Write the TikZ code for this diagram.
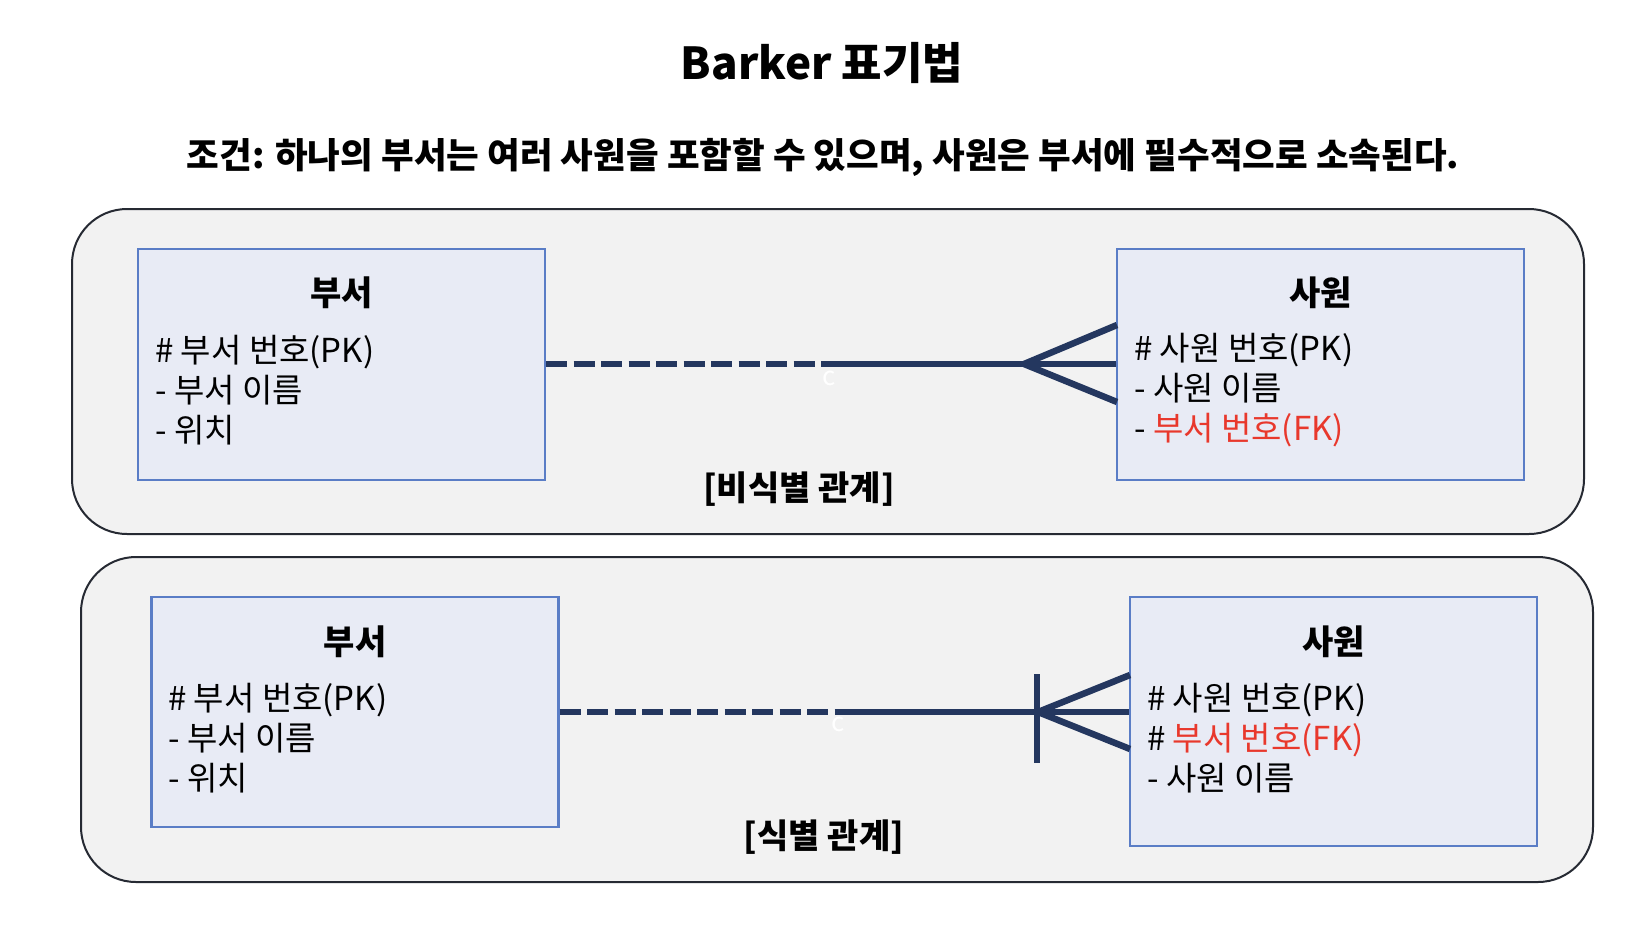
\documentclass[tikz,border=0pt]{standalone}
\usepackage{fontspec}
\setmainfont{Noto Sans CJK KR}
\usetikzlibrary{calc}
\definecolor{contfill}{HTML}{F2F2F2}
\definecolor{contdraw}{HTML}{262A33}
\definecolor{boxfill}{HTML}{E8EBF5}
\definecolor{boxdraw}{HTML}{5A7DC6}
\definecolor{navy}{HTML}{24375F}
\definecolor{fkred}{HTML}{E8382C}
\newcommand{\fs}[2]{\fontsize{#1}{#2}\selectfont}
\begin{document}
\begin{tikzpicture}[x=1pt,y=-1pt,
  container/.style={draw=contdraw,fill=contfill,line width=2pt,rounded corners=55pt},
  entity/.style={draw=boxdraw,fill=boxfill,line width=2.2pt,minimum width=407pt,inner sep=0pt},
  enttitle/.style={font=\fs{34}{40}\bfseries,inner sep=0pt},
  attrs/.style={font=\fs{33}{40},align=left,anchor=west,inner sep=0pt},
  heading/.style={inner sep=0pt},
  dashline/.style={draw=navy,line width=6.5pt,dash pattern=on 21pt off 6.5pt},
  solidline/.style={draw=navy,line width=6.5pt},
  ghost/.style={text=white,font=\fs{26}{28},inner sep=0pt}
]
\fill[white] (0,0) rectangle (1644,938);
\useasboundingbox (0,0) rectangle (1644,938);

% headings
\node[heading,font=\fs{44}{50}\bfseries] (title) at (822,63) {Barker 표기법};
\node[heading,font=\fs{35.5}{40}\bfseries] (cond) at (823,157) {조건: 하나의 부서는 여러 사원을 포함할 수 있으며, 사원은 부서에 필수적으로 소속된다.};

% containers
\draw[container] (72,209) rectangle (1584,534);
\draw[container] (81,557) rectangle (1593,882);

% top (non-identifying)
\node[entity,minimum height=231pt] (dept1) at (341.5,364.5) {};
\node[entity,minimum height=231pt] (emp1) at (1320.5,364.5) {};
\node[enttitle] (dept1t) at (341.5,293) {부서};
\node[enttitle] (emp1t) at (1320.5,293) {사원};
\node[attrs] (dept1a) at (155,390) {\# 부서 번호(PK)\\- 부서 이름\\- 위치};
\node[attrs] (emp1a) at (1134,390) {\# 사원 번호(PK)\\- 사원 이름\\- {\color{fkred}부서 번호(FK)}};
\node[heading,font=\fs{34}{40}\bfseries] (lab1) at (799,489) {[비식별 관계]};

\coordinate (m1) at (825,364);
\coordinate (v1) at (1024,364);
\coordinate (u1) at (1117,325);
\coordinate (l1) at (1117,402);
\draw[dashline] (dept1.east |- m1) -- (m1);
\draw[solidline] (m1) -- (emp1.west |- m1);
\draw[solidline] (v1) -- (u1);
\draw[solidline] (v1) -- (l1);
\node[ghost] (c1) at (829,378) {c};

% bottom (identifying)
\node[entity,minimum height=230pt] (dept2) at (355,712) {};
\node[entity,minimum height=249pt] (emp2) at (1333.5,721.5) {};
\node[enttitle] (dept2t) at (355,642) {부서};
\node[enttitle] (emp2t) at (1333.5,642) {사원};
\node[attrs] (dept2a) at (168,738) {\# 부서 번호(PK)\\- 부서 이름\\- 위치};
\node[attrs] (emp2a) at (1147,738) {\# 사원 번호(PK)\\\# {\color{fkred}부서 번호(FK)}\\- 사원 이름};
\node[heading,font=\fs{34}{40}\bfseries] (lab2) at (824,837) {[식별 관계]};

\coordinate (m2) at (838,712);
\coordinate (v2) at (1038,712);
\coordinate (u2) at (1130,675);
\coordinate (l2) at (1130,749);
\coordinate (bt) at (1037,674);
\coordinate (bb) at (1037,763);
\draw[dashline] (dept2.east |- m2) -- (m2);
\draw[solidline] (m2) -- (emp2.west |- m2);
\draw[solidline] (v2) -- (u2);
\draw[solidline] (v2) -- (l2);
\draw[solidline] (bt) -- (bb);
\node[ghost] (c2) at (838,724) {c};
\end{tikzpicture}
\end{document}
